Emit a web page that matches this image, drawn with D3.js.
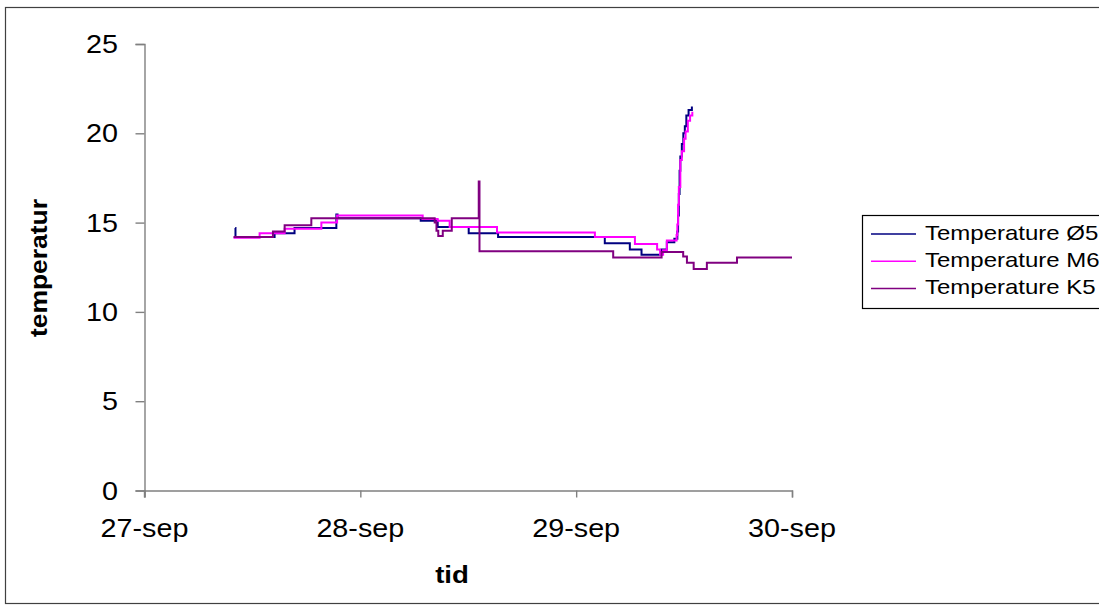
<!DOCTYPE html>
<html>
<head>
<meta charset="utf-8">
<script src="https://cdn.jsdelivr.net/npm/d3@7"></script>
<style>
  body { margin: 0; background: #fff; }
  text { font-family: Arial, "Liberation Sans", sans-serif; fill: #000; }
</style>
</head>
<body>
<div id="chart"></div>
<script>
// data: [time, temperature]
var seriesO5 = [
    ["27-sep 10:05", 14.7], ["27-sep 10:07", 14.2], ["27-sep 14:28", 14.4], ["27-sep 16:41", 14.7],
    ["27-sep 21:20", 15.45], ["27-sep 21:28", 15.25], ["28-sep 06:43", 15.1], ["28-sep 08:36", 14.75],
    ["28-sep 12:03", 14.4], ["28-sep 15:19", 14.2], ["29-sep 03:11", 13.85], ["29-sep 05:58", 13.5],
    ["29-sep 07:16", 13.2], ["29-sep 09:30", 13.5], ["29-sep 10:05", 13.9], ["29-sep 10:55", 14.1],
    ["29-sep 11:15", 14.5], ["29-sep 11:20", 15.4], ["29-sep 11:25", 16.6], ["29-sep 11:30", 17.9],
    ["29-sep 11:35", 18.7], ["29-sep 11:45", 19.4], ["29-sep 11:55", 20.0], ["29-sep 12:05", 20.4],
    ["29-sep 12:15", 21.0], ["29-sep 12:30", 21.3], ["29-sep 12:52", 21.5]
];
var seriesM6 = [
    ["27-sep 09:54", 14.15], ["27-sep 12:48", 14.4], ["27-sep 15:35", 14.65], ["27-sep 19:40", 15.0],
    ["27-sep 21:25", 15.4], ["28-sep 06:56", 15.2], ["28-sep 08:36", 15.1], ["28-sep 09:56", 14.75],
    ["28-sep 15:12", 14.45], ["29-sep 02:05", 14.2], ["29-sep 06:32", 13.8], ["29-sep 09:00", 13.5],
    ["29-sep 09:20", 13.2], ["29-sep 09:40", 13.45], ["29-sep 10:05", 14.0], ["29-sep 11:10", 14.3],
    ["29-sep 11:15", 14.9], ["29-sep 11:20", 16.0], ["29-sep 11:25", 17.0], ["29-sep 11:35", 18.5],
    ["29-sep 11:45", 19.0], ["29-sep 12:00", 19.7], ["29-sep 12:10", 20.1], ["29-sep 12:25", 20.7],
    ["29-sep 12:40", 21.0], ["29-sep 12:55", 21.2]
];
var seriesK5 = [
    ["27-sep 09:54", 14.2], ["27-sep 14:17", 14.5], ["27-sep 15:35", 14.85], ["27-sep 18:33", 15.25],
    ["28-sep 08:16", 15.0], ["28-sep 08:28", 14.55], ["28-sep 08:40", 14.25], ["28-sep 09:10", 14.55],
    ["28-sep 10:10", 15.25], ["28-sep 13:10", 17.3], ["28-sep 13:15", 13.4], ["29-sep 04:07", 13.05],
    ["29-sep 09:30", 13.35], ["29-sep 11:54", 13.1], ["29-sep 12:19", 12.75], ["29-sep 13:04", 12.4],
    ["29-sep 14:32", 12.75], ["29-sep 17:53", 13.05], ["30-sep 00:00", 13.05]
];
var seriesNames = ["Temperature Ø5", "Temperature M6", "Temperature K5"];
var seriesColors = ["#000080", "#ff00ff", "#800080"];
var yTicks = [0, 5, 10, 15, 20, 25];
var xDomain = ["27-sep 00:00", "30-sep 00:00"];

var parseTime = d3.timeParse("%d-%b %H:%M");
var fmtDay = d3.timeFormat("%d-%b");
var stretch = 1.15; // the original text is drawn a bit wider

var svg = d3.select("#chart").append("svg")
    .attr("width", 1099)
    .attr("height", 610);

// outer chart frame
svg.append("rect")
    .attr("x", 5.5).attr("y", 7.5)
    .attr("width", 1110).attr("height", 596)
    .attr("fill", "none").attr("stroke", "#404040").attr("stroke-width", 1.2);

var x = d3.scaleTime().domain(xDomain.map(parseTime)).range([144.5, 792]);
var y = d3.scaleLinear().domain([0, 25]).range([490.5, 44]);

// axes
var xAxis = svg.append("g")
    .attr("transform", "translate(0," + y(0) + ")")
    .call(d3.axisBottom(x).ticks(d3.timeDay.every(1)).tickSize(7).tickFormat(""));
var yAxis = svg.append("g")
    .attr("transform", "translate(" + x.range()[0] + ",0)")
    .call(d3.axisLeft(y).tickValues(yTicks).tickSize(9).tickFormat(""));
[xAxis, yAxis].forEach(function (g) {
    g.select(".domain").attr("stroke", "#808080").attr("stroke-width", 1.4);
    g.selectAll(".tick line").attr("stroke", "#808080").attr("stroke-width", 1.4);
});
// y axis continues a little below zero like the original
svg.append("line")
    .attr("x1", x.range()[0]).attr("x2", x.range()[0])
    .attr("y1", y(0)).attr("y2", y(0) + 7)
    .attr("stroke", "#808080").attr("stroke-width", 1.4);

function stretchedText(px, py, str, size, anchor, weight, rotate, k) {
    return svg.append("text")
        .attr("transform", "translate(" + px + "," + py + ")" + (rotate ? " rotate(" + rotate + ")" : "") + " scale(" + (k || stretch) + ",1)")
        .attr("text-anchor", anchor)
        .attr("font-size", size)
        .attr("font-weight", weight || "normal")
        .text(str);
}

yTicks.forEach(function (v) {
    stretchedText(118, y(v) + 9, v, 25, "end");
});
x.ticks(d3.timeDay.every(1)).forEach(function (d) {
    stretchedText(x(d), 537, fmtDay(d).toLowerCase(), 25, "middle");
});

stretchedText(452, 583, "tid", 24, "middle", "bold");
stretchedText(47, 268, "temperatur", 23, "middle", "bold", -90);

// series
var line = d3.line()
    .curve(d3.curveStepAfter)
    .x(function (d) { return x(parseTime(d[0])); })
    .y(function (d) { return y(d[1]); });

[seriesO5, seriesM6, seriesK5].forEach(function (s, i) {
    svg.append("path")
        .datum(s)
        .attr("d", line)
        .attr("fill", "none")
        .attr("stroke", seriesColors[i])
        .attr("stroke-width", 2);
});

// legend
var legend = svg.append("g");
legend.append("rect")
    .attr("x", 862.5).attr("y", 215.5)
    .attr("width", 260).attr("height", 93)
    .attr("fill", "#fff").attr("stroke", "#000").attr("stroke-width", 1.2);
seriesNames.forEach(function (name, i) {
    var ly = 234 + i * 27.2;
    legend.append("line")
        .attr("x1", 871).attr("x2", 916)
        .attr("y1", ly).attr("y2", ly)
        .attr("stroke", seriesColors[i]).attr("stroke-width", 1.5);
    stretchedText(925, ly + 5.5, name, 20, "start", null, null, 1.2);
});
</script>
</body>
</html>
